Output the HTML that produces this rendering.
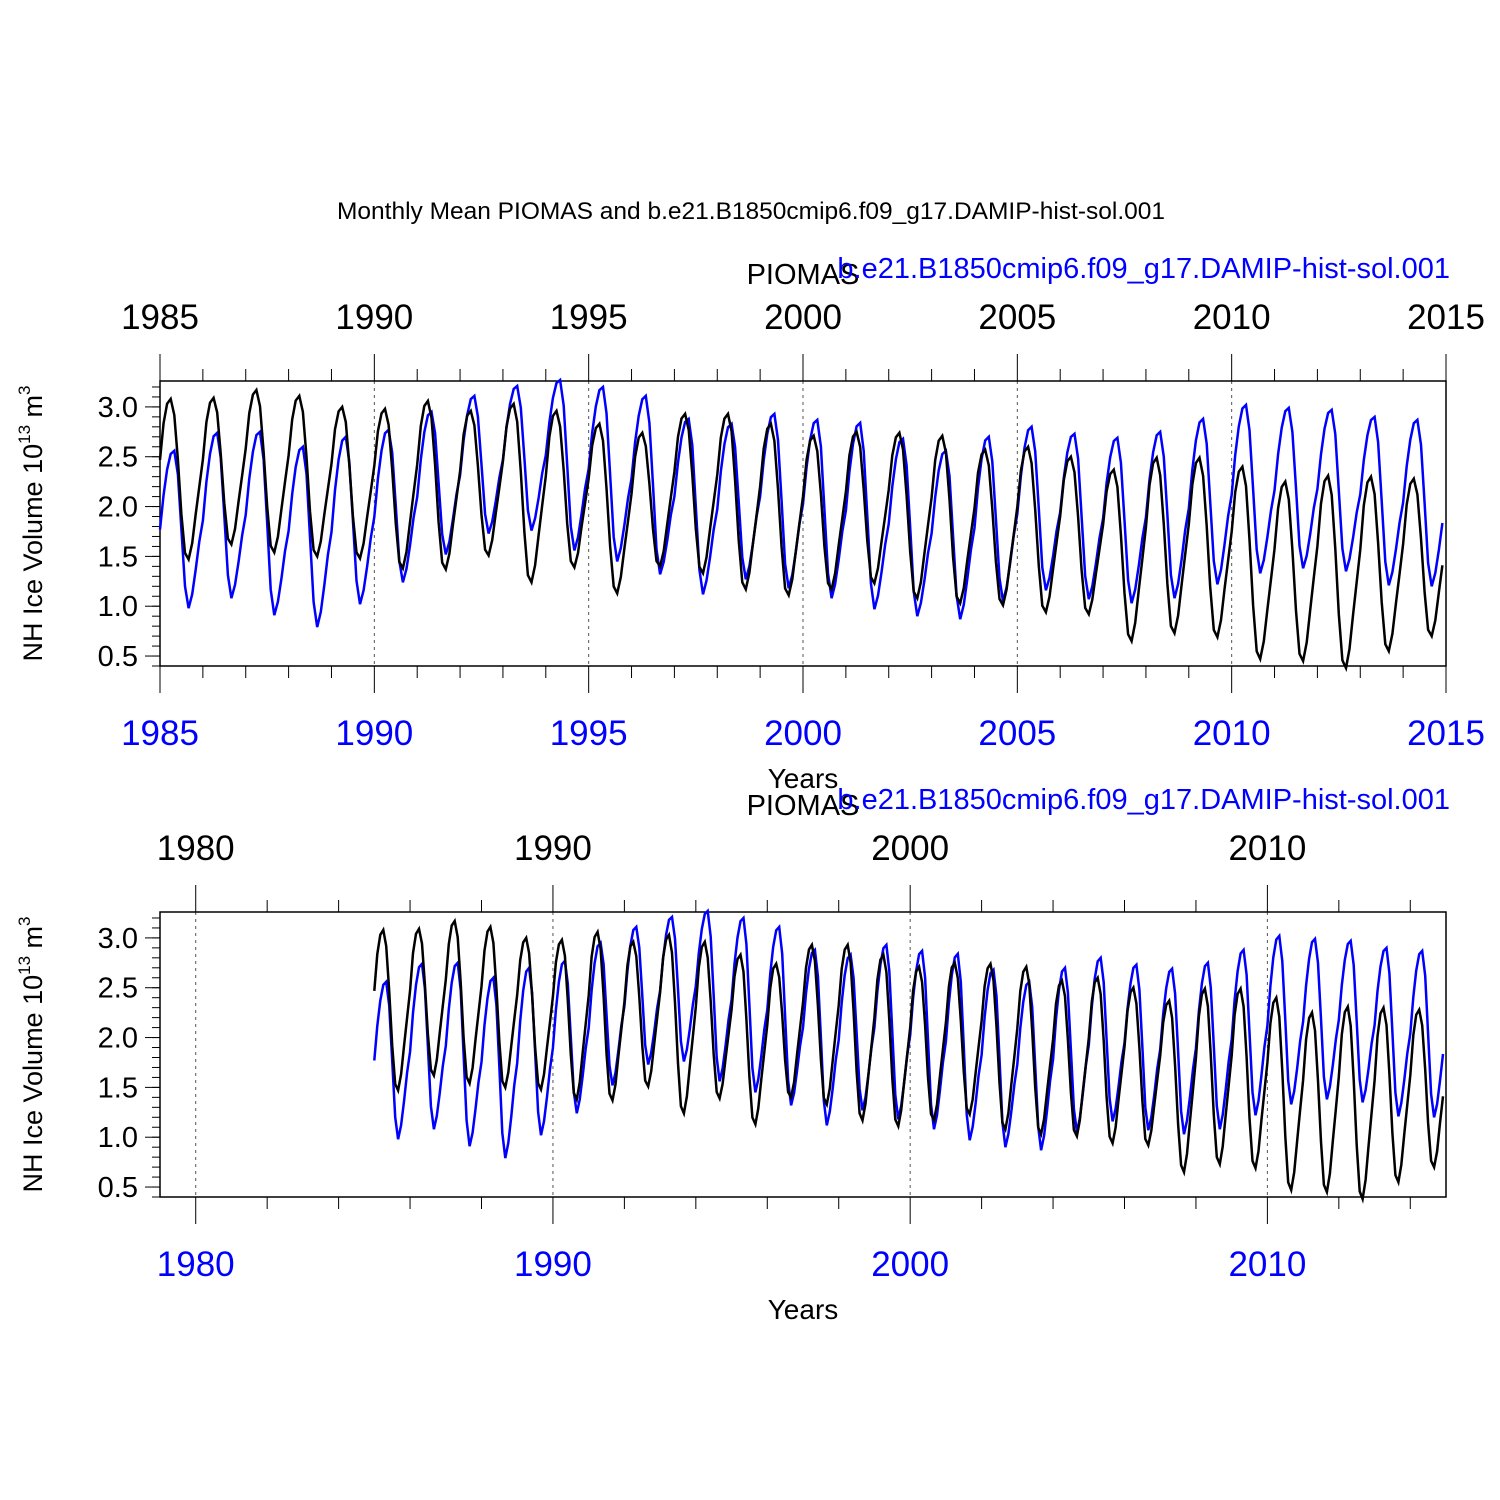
<!DOCTYPE html>
<html><head><meta charset="utf-8"><style>
html,body{margin:0;padding:0;background:#fff;width:1500px;height:1500px;overflow:hidden}
svg{display:block;font-family:"Liberation Sans",sans-serif}
</style></head><body>
<svg id="chart" width="1500" height="1500" viewBox="0 0 1500 1500">
<text x="751" y="219" font-size="24.5" text-anchor="middle">Monthly Mean PIOMAS and b.e21.B1850cmip6.f09_g17.DAMIP-hist-sol.001</text>
</svg>
<script>
const years=[1985,1986,1987,1988,1989,1990,1991,1992,1993,1994,1995,1996,1997,1998,1999,2000,2001,2002,2003,2004,2005,2006,2007,2008,2009,2010,2011,2012,2013,2014];
const piomasMax=[3.08,3.09,3.17,3.11,3.00,2.98,3.06,2.96,3.03,2.96,2.83,2.74,2.93,2.93,2.83,2.71,2.75,2.74,2.71,2.57,2.60,2.50,2.37,2.49,2.49,2.40,2.25,2.31,2.30,2.28];
const piomasMin=[1.47,1.62,1.54,1.50,1.48,1.38,1.37,1.51,1.24,1.39,1.13,1.40,1.33,1.17,1.11,1.17,1.23,1.08,1.03,1.01,0.94,0.92,0.65,0.73,0.69,0.47,0.45,0.38,0.55,0.70];
const modelMax=[2.56,2.74,2.75,2.60,2.70,2.77,2.95,3.11,3.21,3.27,3.20,3.11,2.88,2.83,2.93,2.87,2.84,2.68,2.56,2.70,2.80,2.73,2.69,2.75,2.88,3.02,2.99,2.97,2.90,2.87];
const modelMin=[0.98,1.08,0.91,0.79,1.02,1.24,1.52,1.73,1.76,1.56,1.45,1.32,1.12,1.27,1.18,1.08,0.97,0.90,0.87,1.05,1.16,1.07,1.03,1.08,1.22,1.33,1.38,1.35,1.21,1.20];
const piomasShape=[0.62,0.85,0.97,1.0,0.9,0.62,0.28,0.04,0,0.1,0.28,0.45];
const modelShape=[0.5,0.72,0.88,0.98,1.0,0.85,0.5,0.14,0,0.08,0.22,0.38];
const piomasPeak=3, modelPeak=4;
const yTicks=[0.5,1.0,1.5,2.0,2.5,3.0];

const NS="http://www.w3.org/2000/svg";
const svg=document.getElementById('chart');
function el(tag,attrs,parent){const e=document.createElementNS(NS,tag);for(const k in attrs)e.setAttribute(k,attrs[k]);(parent||svg).appendChild(e);return e;}
function monthly(mx,mn,shape,peak){const out=[];const n=years.length;
  for(let i=0;i<n;i++)for(let m=0;m<12;m++){
    let lo,hi;
    if(m<=peak){lo=i>0?mn[i-1]:mn[i];hi=mx[i];}
    else if(m<=8){lo=mn[i];hi=mx[i];}
    else {lo=mn[i];hi=i<n-1?mx[i+1]:mx[i];}
    out.push({t:years[i]+m/12,v:lo+(hi-lo)*shape[m]});}
  return out;}
const piomas=monthly(piomasMax,piomasMin,piomasShape,piomasPeak);
const model=monthly(modelMax,modelMin,modelShape,modelPeak);

function panel(p){
  const g=el('g',{});
  
  
  const L=160,R=1446,T=p.top,B=p.top+285;
  const x=t=>L+(t-p.x0)/(p.x1-p.x0)*(R-L);
  const y=v=>B-(v-0.40)/(3.26-0.40)*(B-T);
  for(const t of p.major){const gl=el('line',{x1:x(t),x2:x(t),y1:T,y2:B,stroke:'#555','stroke-width':1,'stroke-dasharray':'3,4'},g);
    }
  const fr=el('rect',{x:L,y:T,width:R-L,height:B-T,fill:'none',stroke:'#000','stroke-width':1.5},g);
  
  for(const t of p.minor){el('line',{x1:x(t),x2:x(t),y1:T,y2:T-12,stroke:'#000','stroke-width':1},g);el('line',{x1:x(t),x2:x(t),y1:B,y2:B+12,stroke:'#000','stroke-width':1},g);}
  for(const t of p.major){el('line',{x1:x(t),x2:x(t),y1:T,y2:T-27,stroke:'#000','stroke-width':1},g);el('line',{x1:x(t),x2:x(t),y1:B,y2:B+27,stroke:'#000','stroke-width':1},g);
    const a=el('text',{x:x(t),y:T-52,'font-size':35,'text-anchor':'middle',fill:'#000'},g);a.textContent=t;
    
    const b=el('text',{x:x(t),y:B+79,'font-size':35,'text-anchor':'middle',fill:'#00f'},g);b.textContent=t;
    }
  for(let v=0.4;v<=3.26;v+=0.1){el('line',{x1:L,x2:L-8,y1:y(v),y2:y(v),stroke:'#000','stroke-width':1},g);}
  for(const v of yTicks){el('line',{x1:L,x2:L-15,y1:y(v),y2:y(v),stroke:'#000','stroke-width':1},g);
    const tl=el('text',{x:L-22,y:y(v)+10,'font-size':29,'text-anchor':'end'},g);tl.textContent=v.toFixed(1);
    }
  const d=s=>s.map((p2,i)=>(i?'L':'M')+x(p2.t).toFixed(1)+','+y(p2.v).toFixed(1)).join('');
  const pb=el('path',{d:d(model),fill:'none',stroke:'#00f','stroke-width':2.5},g);
  
  const pk=el('path',{d:d(piomas),fill:'none',stroke:'#000','stroke-width':2.5},g);
  
  const yl=el('text',{transform:`translate(42,${(T+B)/2}) rotate(-90)`,'font-size':27,'text-anchor':'middle'},g);
  yl.innerHTML='NH Ice Volume 10<tspan font-size="17" dy="-12">13</tspan><tspan dy="12"> m</tspan><tspan font-size="17" dy="-12">3</tspan>';
  
  const xl=el('text',{x:803,y:B+122,'font-size':28,'text-anchor':'middle'},g);xl.textContent='Years';
  
  const l1=el('text',{x:803,y:T-97,'font-size':29,'text-anchor':'middle'},g);l1.textContent='PIOMAS';
  
  const l2=el('text',{x:1450,y:T-103,'font-size':29,'text-anchor':'end',fill:'#00f'},g);l2.textContent='b.e21.B1850cmip6.f09_g17.DAMIP-hist-sol.001';
  
}
const minor1=[];for(let t=1986;t<2015;t++)if(t%5)minor1.push(t);
const minor2=[];for(let t=1982;t<2015;t+=2)if(t%10)minor2.push(t);
panel({name:'top-panel',top:381,x0:1985,x1:2015,major:[1985,1990,1995,2000,2005,2010,2015],minor:minor1});
panel({name:'bottom-panel',top:912,x0:1979,x1:2015,major:[1980,1990,2000,2010],minor:minor2});
</script>
</body></html>
